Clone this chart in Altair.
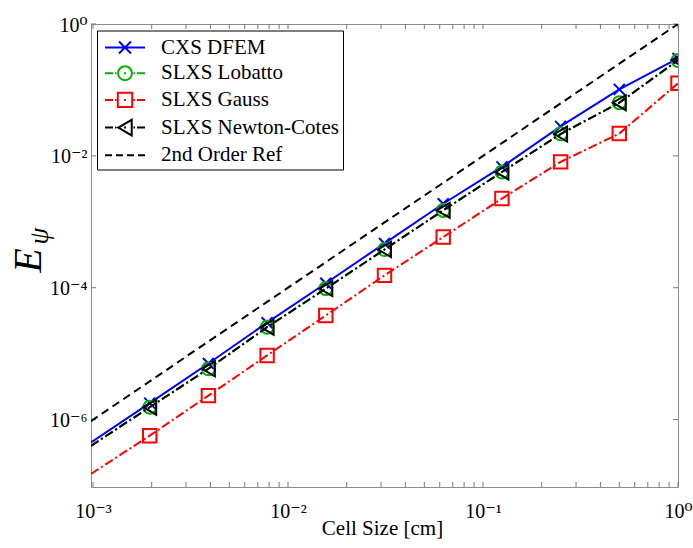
import math
import altair as alt
import pandas as pd

# ---------------- data ----------------
cell_size = [1.0, 0.5, 0.25, 0.125, 0.0625, 0.03125, 0.015625,
             0.0078125, 0.00390625, 0.001953125, 0.0009765625]
cxs_dfem = [0.30, 0.102, 0.028, 0.0068, 0.00188, 4.7e-4, 1.17e-4,
            2.95e-5, 7.1e-6, 1.78e-6, 4.5e-7]
slxs_lobatto = [0.28, 0.064, 0.0216, 0.0057, 0.00149, 3.8e-4, 9.7e-5,
                2.52e-5, 5.9e-6, 1.54e-6, 4.0e-7]
slxs_gauss = [0.126, 0.0218, 0.0081, 0.00225, 5.87e-4, 1.54e-4, 3.8e-5,
              9.4e-6, 2.31e-6, 5.7e-7, 1.5e-7]
slxs_nc = [0.284, 0.064, 0.0214, 0.0057, 0.00149, 3.8e-4, 9.7e-5,
           2.52e-5, 5.9e-6, 1.54e-6, 4.0e-7]
ref_2nd = [1.0, 0.25, 0.0625, 0.0156, 0.0039, 9.8e-4, 2.44e-4,
           6.1e-5, 1.53e-5, 3.8e-6, 9.5e-7]
n_markers = 10  # markers drawn on the first ten points only

series_names = ["CXS DFEM", "SLXS Lobatto", "SLXS Gauss",
                "SLXS Newton-Cotes", "2nd Order Ref"]
series_values = [cxs_dfem, slxs_lobatto, slxs_gauss, slxs_nc, ref_2nd]
series_colors = ["#0000ff", "#00b000", "#ff0000", "#000000", "#000000"]

x_tick_labels = [0.001, 0.01, 0.1, 1.0]
y_tick_labels = [1e-6, 1e-4, 1e-2, 1.0]
x_minor = [m * 10.0 ** d for d in (-3, -2, -1) for m in range(1, 10)] + [1.0]

# ---------------- styles ----------------
W, H = 587, 463
FONT = "Liberation Serif, Times New Roman, DejaVu Serif, serif"
DASHDOT = [9, 3, 2, 3]
DASHED = [8, 5]
line_dash = [None, DASHDOT, DASHDOT, DASHDOT, DASHED]
marker_shape = ["M-1,-1L1,1M-1,1L1,-1", "circle", "square",
                "M-0.866,0L0.866,-1L0.866,1Z", None]
marker_size = [121, 169, 180, 225, 0]

# legend symbols: line segment + marker, in units of 12 px
dd = "M-1.667,0L-1,0M-0.833,0L-0.708,0M-0.08,0L0.08,0M0.708,0L0.833,0M1,0L1.667,0"
legend_paths = [
    "M-1.667,0L1.667,0M-0.5,-0.5L0.5,0.5M-0.5,0.5L0.5,-0.5",
    dd + "M0.58,0A0.58,0.58 0 1,1 -0.58,0A0.58,0.58 0 1,1 0.58,0Z",
    dd + "M-0.6,-0.6L0.6,-0.6L0.6,0.6L-0.6,0.6Z",
    dd + "M-0.56,0L0.56,-0.65L0.56,0.65Z",
    "M-1.667,0L-1.083,0M-0.75,0L-0.167,0M0.167,0L0.75,0M1.083,0L1.667,0",
]

sup = {"0": "⁰", "1": "¹", "2": "²", "3": "³", "4": "⁴", "5": "⁵",
       "6": "⁶", "7": "⁷", "8": "⁸", "9": "⁹", "-": "⁻"}


def power_label(v):
    e = str(round(math.log10(v)))
    return "10" + "".join(sup[c] for c in e)


def label_expr(vals):
    parts = [f"datum.value < {v * 3.16} ? '{power_label(v)}' : " for v in vals[:-1]]
    return "".join(parts) + f"'{power_label(vals[-1])}'"


xscale = alt.Scale(type="log", domain=[0.0009765625, 1.0], nice=False)
yscale = alt.Scale(type="log", domain=[9.5e-8, 1.0], nice=False)

xaxis = alt.Axis(values=x_tick_labels, labelExpr=label_expr(x_tick_labels),
                 title="Cell Size [cm]", titleFont=FONT, titleFontSize=21,
                 titleFontWeight="normal", titleColor="black",
                 titleX=291, titleY=41, titleBaseline="middle",
                 labelFont=FONT, labelFontSize=20, labelColor="black",
                 labelBaseline="alphabetic", labelPadding=30,
                 ticks=False, tickSize=0, domain=False, grid=False,
                 labelFlush=False, labelOverlap=False)
yaxis = alt.Axis(values=y_tick_labels, labelExpr=label_expr(y_tick_labels),
                 title="E", titleFont=FONT, titleFontSize=40,
                 titleFontStyle="italic", titleFontWeight="normal",
                 titleColor="black", titleX=-63, titleY=236, titleAngle=270,
                 titleAlign="center", titleBaseline="middle",
                 labelFont=FONT, labelFontSize=20, labelColor="black",
                 labelBaseline="alphabetic", labelOffset=7, labelPadding=4,
                 ticks=False, tickSize=0, domain=False, grid=False,
                 labelFlush=False, labelOverlap=False)

TICK = "#777777"
layers = []

# inward ticks (bottom, top, left, right)
xt = pd.DataFrame({"v": x_minor})
yt = pd.DataFrame({"v": y_tick_labels})
for y0, y1 in ((H, H - 5), (0, 5)):
    layers.append(alt.Chart(xt).mark_rule(color=TICK, strokeWidth=1).encode(
        x=alt.X("v:Q", scale=xscale, axis=xaxis),
        y=alt.value(y0), y2=alt.value(y1)))
for x0, x1 in ((0, 5), (W, W - 5)):
    layers.append(alt.Chart(yt).mark_rule(color=TICK, strokeWidth=1).encode(
        y=alt.Y("v:Q", scale=yscale, axis=yaxis),
        x=alt.value(x0), x2=alt.value(x1)))

for i, name in enumerate(series_names):
    df = pd.DataFrame({"x": cell_size, "y": series_values[i]})
    lkw = dict(color=series_colors[i], strokeWidth=2, clip=True)
    if line_dash[i]:
        lkw["strokeDash"] = line_dash[i]
    layers.append(alt.Chart(df).mark_line(**lkw).encode(
        x=alt.X("x:Q", scale=xscale, axis=xaxis),
        y=alt.Y("y:Q", scale=yscale, axis=yaxis)))
    if marker_shape[i]:
        layers.append(alt.Chart(df.iloc[:n_markers]).mark_point(
            shape=marker_shape[i], size=marker_size[i], filled=False,
            strokeWidth=2, color=series_colors[i], opacity=1, clip=True).encode(
            x=alt.X("x:Q", scale=xscale, axis=xaxis),
            y=alt.Y("y:Q", scale=yscale, axis=yaxis)))

# legend layer (invisible marks, visible legend)
leg_df = pd.DataFrame({"series": series_names})
layers.append(alt.Chart(leg_df).mark_point(opacity=0, filled=False).encode(
    x=alt.value(0), y=alt.value(0),
    color=alt.Color("series:N",
                    scale=alt.Scale(domain=series_names, range=series_colors),
                    legend=alt.Legend(
                        title=None, orient="none", legendX=6, legendY=6.5,
                        symbolSize=576, symbolStrokeWidth=2,
                        symbolOpacity=1, symbolFillColor="transparent",
                        symbolOffset=11, labelOffset=23,
                        labelFont=FONT, labelFontSize=21, labelColor="black",
                        labelLimit=400, strokeColor="black", fillColor="white",
                        padding=4, rowPadding=2.7)),
    shape=alt.Shape("series:N",
                    scale=alt.Scale(domain=series_names, range=legend_paths))))

# subscript psi of the y title
layers.append(alt.Chart(pd.DataFrame({"t": ["ψ"]})).mark_text(
    text="ψ", angle=270, font=FONT, fontSize=27, fontStyle="italic",
    color="black").encode(x=alt.value(-51), y=alt.value(212)))

chart = alt.layer(*layers).properties(
    width=W, height=H, autosize="none",
    padding={"left": 91, "top": 24, "right": 15, "bottom": 61},
    background="white",
).configure_view(stroke="#8c8c8c", strokeWidth=1
).configure_axis(labelFont=FONT, titleFont=FONT
).configure_legend(labelFont=FONT)

chart.save("out.html", embed_options={"renderer": "svg", "actions": False})
